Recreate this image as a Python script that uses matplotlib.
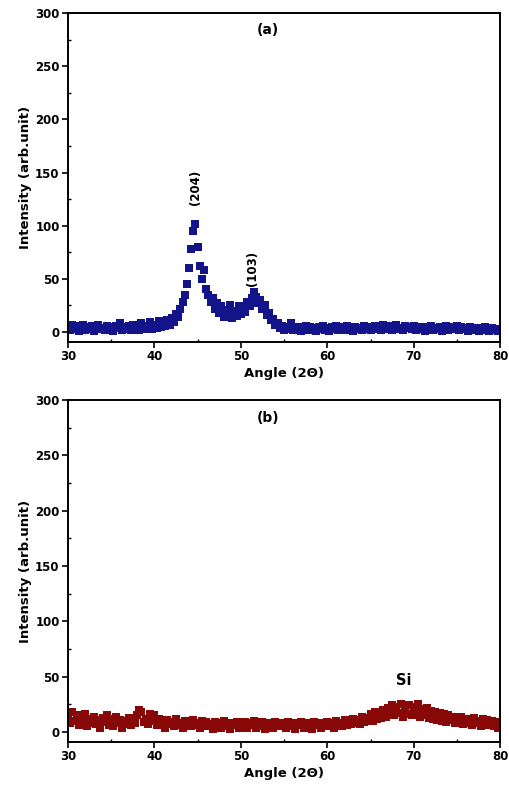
import numpy as np
import matplotlib.pyplot as plt
from matplotlib.ticker import MultipleLocator

plt.rcParams['font.family'] = ['DejaVu Sans']
plt.rcParams['font.weight'] = 'bold'

# XRD scans, 2-theta from 30 to 80 deg, one value every 0.25 deg (20 values per row = 5 deg)
intensity_a = [
    5, 2, 7, 3, 6, 1, 4, 7, 2, 5, 3, 6, 1, 5, 7, 3, 4, 2, 6, 3,
    5, 1, 6, 4, 8, 2, 5, 3, 6, 2, 7, 4, 5, 2, 8, 3, 6, 4, 9, 3,
    7, 4, 10, 5, 8, 6, 11, 7, 13, 9, 17, 14, 22, 28, 35, 45, 60, 78, 95, 102,
    80, 62, 50, 58, 40, 35, 28, 32, 22, 27, 18, 24, 14, 21, 16, 25, 13, 20, 15, 24,
    17, 22, 19, 28, 24, 32, 38, 33, 27, 30, 22, 25, 16, 18, 11, 12, 7, 8, 4, 6,
    2, 5, 3, 8, 2, 4, 3, 5, 1, 4, 6, 2, 5, 3, 4, 1, 5, 3, 6, 2,
    4, 1, 5, 3, 6, 2, 4, 5, 2, 6, 3, 4, 1, 5, 3, 4, 2, 6, 3, 5,
    2, 4, 6, 3, 5, 2, 7, 4, 3, 6, 2, 5, 7, 3, 4, 2, 6, 4, 5, 3,
    6, 2, 4, 5, 3, 1, 5, 3, 6, 2, 4, 3, 5, 1, 4, 6, 2, 5, 3, 4,
    6, 2, 5, 3, 4, 1, 5, 2, 4, 3, 1, 4, 2, 5, 3, 1, 4, 2, 3, 1,
    3,
]

intensity_b = [
    14, 8, 18, 10, 15, 6, 13, 9, 16, 5, 12, 8, 14, 7, 11, 4, 13, 9, 15, 6,
    12, 5, 14, 8, 11, 4, 10, 7, 13, 6, 11, 8, 15, 20, 18, 9, 12, 7, 16, 10,
    15, 6, 12, 8, 10, 4, 11, 7, 9, 5, 12, 6, 8, 4, 10, 7, 9, 5, 11, 6,
    8, 4, 10, 6, 9, 5, 7, 3, 9, 6, 8, 4, 10, 5, 7, 3, 8, 6, 9, 4,
    7, 5, 9, 4, 8, 6, 10, 4, 7, 5, 9, 3, 8, 6, 7, 4, 9, 5, 8, 6,
    7, 4, 9, 5, 8, 3, 7, 6, 9, 4, 8, 5, 7, 3, 9, 6, 8, 4, 7, 5,
    9, 5, 8, 4, 10, 6, 8, 5, 11, 6, 9, 7, 12, 8, 11, 7, 14, 9, 13, 10,
    16, 10, 18, 12, 17, 13, 20, 14, 22, 16, 24, 15, 23, 17, 25, 14, 22, 16, 24, 15,
    23, 16, 25, 14, 21, 15, 22, 13, 19, 12, 18, 11, 17, 10, 16, 9, 15, 11, 14, 8,
    13, 9, 14, 7, 12, 8, 11, 6, 13, 8, 10, 5, 12, 7, 11, 6, 10, 5, 9, 4,
    8,
]

angle = np.linspace(30, 80, len(intensity_a))

fig = plt.figure(figsize=(5.09, 7.94), dpi=100)
ax_a = fig.add_axes([0.1336, 0.5693, 0.849, 0.4143])
ax_b = fig.add_axes([0.1336, 0.0655, 0.849, 0.4307])

for ax, y, col, ymin in [(ax_a, intensity_a, '#14148a', -9.4), (ax_b, intensity_b, '#880808', -9.0)]:
    ax.plot(angle, y, 's', color=col, markersize=5.4, markeredgewidth=0)
    ax.set_xlim(30, 80)
    ax.set_ylim(ymin, 300)
    ax.xaxis.set_major_locator(MultipleLocator(10))
    ax.xaxis.set_minor_locator(MultipleLocator(5))
    ax.yaxis.set_major_locator(MultipleLocator(50))
    ax.yaxis.set_minor_locator(MultipleLocator(25))
    ax.tick_params(which='major', direction='out', length=4, width=1.2, labelsize=8.5, pad=2)
    ax.tick_params(which='minor', direction='in', length=2.5, width=1)
    for s in ax.spines.values():
        s.set_linewidth(1.4)
    ax.set_xlabel('Angle (2\u0398)', fontsize=9.5, fontweight='bold', labelpad=3)
    ax.set_ylabel('Intensity (arb.unit)', fontsize=9.5, fontweight='bold', labelpad=2)

ax_a.text(53.1, 284, '(a)', fontsize=10, fontweight='bold', ha='center', va='center')
ax_a.text(44.7, 136, '(204)', fontsize=8.5, fontweight='bold', rotation=90, ha='center', va='center')
ax_a.text(51.4, 60, '(103)', fontsize=8.5, fontweight='bold', rotation=90, ha='center', va='center')
ax_b.text(53.1, 284, '(b)', fontsize=10, fontweight='bold', ha='center', va='center')
ax_b.text(68.8, 47, 'Si', fontsize=10.5, fontweight='bold', ha='center', va='center')

fig.savefig('out.png', dpi=100)
